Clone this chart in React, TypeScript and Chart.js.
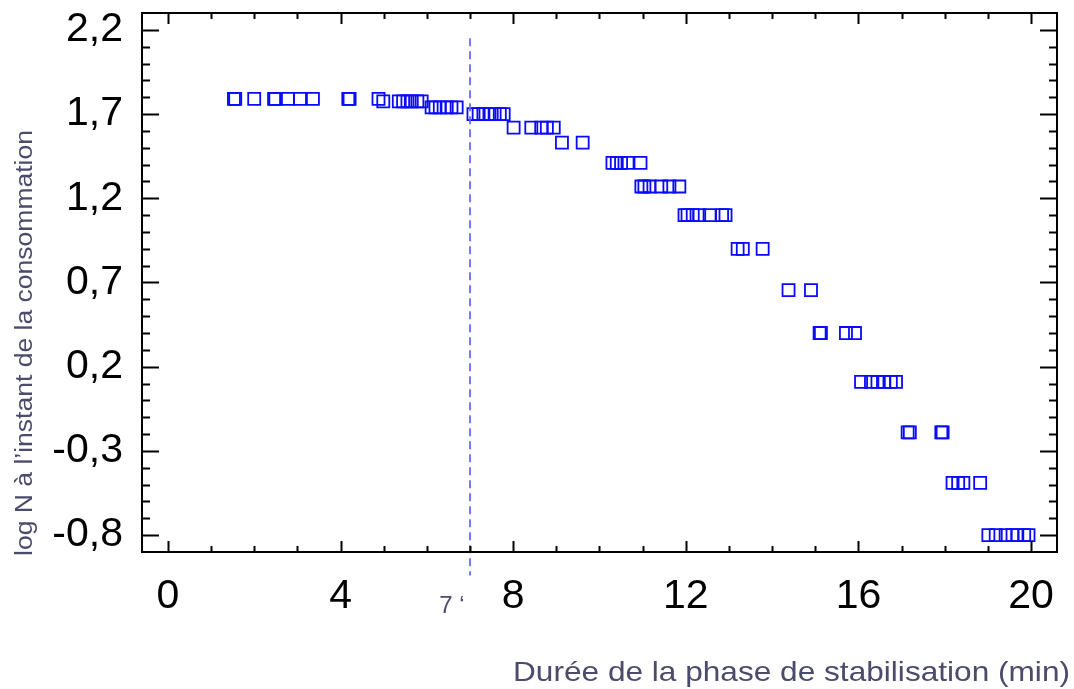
import { useEffect, useRef } from "react";
import { Chart, registerables } from "chart.js";

Chart.register(...registerables);

// Stabilisation time (min) and log N at the moment of consumption
const durations = [
  1.53, 1.56, 2.0, 2.46, 2.49, 2.78, 3.06, 3.36, 4.18, 4.21, 4.88,
  4.99, 5.35, 5.45, 5.55, 5.65, 5.78, 5.88,
  6.11, 6.2, 6.3, 6.46, 6.57, 6.69,
  7.08, 7.2, 7.31, 7.45, 7.57, 7.69, 7.78,
  8.01, 8.42, 8.65, 8.78, 8.94,
  9.13, 9.61,
  10.3, 10.4, 10.5, 10.65, 10.95,
  10.97, 11.04, 11.16, 11.43, 11.62, 11.85,
  11.97, 12.04, 12.16, 12.31, 12.55, 12.84, 12.92,
  13.2, 13.32, 13.78,
  14.38, 14.9,
  15.1, 15.13, 15.71, 15.92,
  16.06, 16.29, 16.44, 16.6, 16.75, 16.87,
  17.14, 17.19, 17.92, 17.95,
  18.18, 18.31, 18.43, 18.82,
  19.01, 19.18, 19.41, 19.57, 19.68, 19.84, 19.94,
];
const logN = [
  1.79, 1.79, 1.79, 1.79, 1.79, 1.79, 1.79, 1.79, 1.79, 1.79, 1.79,
  1.775, 1.775, 1.775, 1.775, 1.775, 1.775, 1.775,
  1.74, 1.74, 1.74, 1.74, 1.74, 1.74,
  1.7, 1.7, 1.7, 1.7, 1.7, 1.7, 1.7,
  1.62, 1.62, 1.62, 1.62, 1.62,
  1.53, 1.53,
  1.41, 1.41, 1.41, 1.41, 1.41,
  1.27, 1.27, 1.27, 1.27, 1.27, 1.27,
  1.1, 1.1, 1.1, 1.1, 1.1, 1.1, 1.1,
  0.9, 0.9, 0.9,
  0.655, 0.655,
  0.4, 0.4, 0.4, 0.4,
  0.11, 0.11, 0.11, 0.11, 0.11, 0.11,
  -0.19, -0.19, -0.19, -0.19,
  -0.49, -0.49, -0.49, -0.49,
  -0.8, -0.8, -0.8, -0.8, -0.8, -0.8, -0.8,
];

const xTickValues = [0, 4, 8, 12, 16, 20];
const yTickValues = [-0.8, -0.3, 0.2, 0.7, 1.2, 1.7, 2.2];
const xRange = [-0.6, 20.6];
const yRange = [-0.9, 2.3];

// Reference line at the end of stabilisation
const markerTime = 7;
const markerSpan = [-1.04, 2.15];
const markerLabel = "7 \u2018";

const xTitle = "Durée de la phase de stabilisation (min)";
const yTitle = "log N à l\u2019instant de la consommation";

const TITLE_COLOR = "#4b4b6b";
const SANS = '"Liberation Sans", Arial, sans-serif';

// draws text stretched/condensed horizontally to a given length
function fitText(ctx: CanvasRenderingContext2D, text: string, length: number) {
  const w = ctx.measureText(text).width;
  ctx.save();
  ctx.scale(length / w, 1);
  ctx.fillText(text, 0, 0);
  ctx.restore();
}

const decorations = {
  id: "decorations",
  afterDatasetsDraw(chart: any) {
    const { ctx, chartArea: a, scales } = chart;
    const x = scales.x;
    const y = scales.y;
    ctx.save();

    // dashed vertical marker
    const mx = x.getPixelForValue(markerTime);
    ctx.strokeStyle = "rgba(90,100,245,0.85)";
    ctx.lineWidth = 2;
    ctx.setLineDash([8, 5]);
    ctx.beginPath();
    ctx.moveTo(mx, y.getPixelForValue(markerSpan[1]));
    ctx.lineTo(mx, y.getPixelForValue(markerSpan[0]));
    ctx.stroke();
    ctx.setLineDash([]);

    // frame
    ctx.strokeStyle = "#000";
    ctx.lineWidth = 2;
    ctx.strokeRect(a.left, a.top, a.right - a.left, a.bottom - a.top);

    // inward tick marks, x: every minute, long every 4
    ctx.beginPath();
    for (let v = 0; v <= 20; v++) {
      const px = Math.round(x.getPixelForValue(v)) + 0.5;
      const len = v % 4 === 0 ? 11 : 6;
      ctx.moveTo(px, a.bottom);
      ctx.lineTo(px, a.bottom - len);
      ctx.moveTo(px, a.top);
      ctx.lineTo(px, a.top + len);
    }
    // y: every 0.1, long every 0.5
    for (let i = 0; i <= 30; i++) {
      const v = -0.8 + i * 0.1;
      const py = Math.round(y.getPixelForValue(v)) + 0.5;
      const len = i % 5 === 0 ? 17 : 8;
      ctx.moveTo(a.left, py);
      ctx.lineTo(a.left + len, py);
      ctx.moveTo(a.right, py);
      ctx.lineTo(a.right - len, py);
    }
    ctx.stroke();

    // axis titles
    ctx.fillStyle = TITLE_COLOR;
    ctx.font = `28px ${SANS}`;
    ctx.textAlign = "left";
    ctx.textBaseline = "alphabetic";
    ctx.save();
    ctx.translate(513, 681);
    fitText(ctx, xTitle, 557);
    ctx.restore();

    ctx.font = `23px ${SANS}`;
    ctx.textAlign = "left";
    ctx.textBaseline = "middle";
    ctx.save();
    ctx.translate(26, 556);
    ctx.rotate(-Math.PI / 2);
    fitText(ctx, yTitle, 426);
    ctx.restore();

    ctx.font = `24px ${SANS}`;
    ctx.textAlign = "center";
    ctx.textBaseline = "alphabetic";
    ctx.fillText(markerLabel, mx - 18, 613);

    ctx.restore();
  },
};

export default function App() {
  const ref = useRef<HTMLCanvasElement | null>(null);

  useEffect(() => {
    if (!ref.current) return;
    const points = durations.map((d, i) => ({ x: d, y: logN[i] }));
    const chart = new Chart(ref.current, {
      type: "scatter",
      data: {
        datasets: [
          {
            data: points,
            pointStyle: "rect",
            pointRadius: 8.5,
            pointHoverRadius: 8.5,
            borderColor: "#0a0aff",
            backgroundColor: "rgba(0,0,0,0)",
            borderWidth: 1.8,
          },
        ],
      },
      options: {
        responsive: false,
        animation: false,
        events: [],
        layout: { padding: { top: 13, right: 17, left: 0, bottom: 0 } },
        plugins: { legend: { display: false }, tooltip: { enabled: false } },
        scales: {
          x: {
            type: "linear",
            min: xRange[0],
            max: xRange[1],
            grid: { display: false, drawTicks: false },
            border: { display: false },
            afterBuildTicks: (s: any) => {
              s.ticks = xTickValues.map((v) => ({ value: v }));
            },
            afterFit: (s: any) => {
              s.height = 137;
              s.paddingLeft = 0;
              s.paddingRight = 0;
            },
            ticks: {
              color: "#000",
              font: { family: SANS, size: 41 },
              padding: 20,
              maxRotation: 0,
              autoSkip: false,
              callback: (v: any) => String(v),
            },
          },
          y: {
            type: "linear",
            min: yRange[0],
            max: yRange[1],
            grid: { display: false, drawTicks: false },
            border: { display: false },
            afterBuildTicks: (s: any) => {
              s.ticks = yTickValues.map((v) => ({ value: v }));
            },
            afterFit: (s: any) => {
              s.width = 142;
              s.paddingTop = 0;
              s.paddingBottom = 0;
            },
            ticks: {
              color: "#000",
              font: { family: SANS, size: 41 },
              padding: 19,
              autoSkip: false,
              callback: (v: any) => Number(v).toFixed(1).replace(".", ","),
            },
          },
        },
      },
      plugins: [decorations],
    });
    return () => chart.destroy();
  }, []);

  return (
    <div style={{ position: "absolute", left: 0, top: 0, width: 1074, height: 689, background: "#fff" }}>
      <canvas ref={ref} width={1074} height={689} style={{ display: "block" }} />
    </div>
  );
}
